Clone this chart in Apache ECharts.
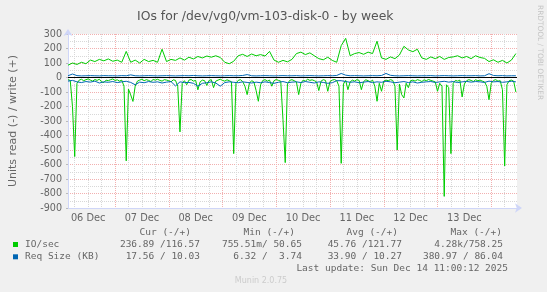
<!DOCTYPE html>
<html><head><meta charset="utf-8">
<script src="https://cdn.jsdelivr.net/npm/echarts@6/dist/echarts.min.js"></script>
<style>html,body{margin:0;padding:0;background:#f0f0f0}#c{width:547px;height:292px}</style>
</head><body><div id="c"></div><script>
// Time is in hours since Sat 06 Dec 00:00; samples are fixed-step (RRD style)
const startHour = 3;
const endHour = 203.5;
const coarseStep = 2;   // hours between samples of the coarse series
const fineStep = 1;     // hours between samples of IO read series

const dayLabels = ['06 Dec','07 Dec','08 Dec','09 Dec','10 Dec','11 Dec','12 Dec','13 Dec'];
const dayLabelHours = [12,36,60,84,108,132,156,180];
const dayLineHours = [24,48,72,96,120,144,168,192];
const sixHourLines = [6,12,18,30,36,42,54,60,66,78,84,90,102,108,114,126,132,138,150,156,162,174,180,186,198];

// IO/sec write (+), every 2 h
const ioWrite = [85,100,90,105,95,120,110,125,115,128,
 112,120,105,180,105,120,100,125,110,118,
 105,195,110,125,118,135,120,140,128,145,
 135,148,140,150,138,105,95,112,150,160,
 145,162,150,158,148,180,120,105,118,108,
 125,165,175,158,170,150,130,122,140,118,
 105,220,270,150,165,172,160,175,165,250,
 135,125,142,130,155,215,190,178,195,135,
 125,142,130,145,125,138,142,150,135,145,
 130,150,138,132,110,122,105,118,100,120,
 165];

// IO/sec read (-), every 1 h
const ioRead = [-15,-20,-200,-545,-40,-18,-12,-22,-15,-10,
 -18,-25,-14,-20,-12,-30,-35,-18,-22,-15,
 -10,-20,-16,-25,-18,-60,-575,-80,-120,-165,
 -60,-25,-18,-12,-22,-15,-20,-28,-14,-18,
 -12,-20,-25,-15,-18,-22,-30,-16,-20,-60,
 -375,-40,-22,-50,-18,-14,-25,-20,-85,-30,
 -18,-22,-55,-20,-15,-70,-25,-18,-12,-20,
 -25,-16,-22,-30,-525,-40,-20,-15,-28,-60,
 -118,-40,-22,-30,-90,-164,-50,-20,-15,-25,
 -18,-60,-22,-14,-20,-25,-290,-587,-45,-20,
 -15,-22,-30,-118,-40,-18,-25,-12,-20,-16,
 -22,-30,-90,-25,-15,-20,-95,-28,-18,-14,
 -22,-60,-592,-45,-20,-84,-30,-18,-25,-15,
 -20,-84,-28,-16,-22,-30,-18,-60,-164,-40,
 -95,-25,-18,-22,-15,-20,-60,-500,-45,-118,
 -141,-40,-70,-22,-18,-25,-15,-20,-28,-16,
 -22,-14,-20,-25,-30,-95,-40,-60,-820,-50,
 -70,-525,-40,-20,-25,-18,-134,-45,-22,-15,
 -20,-28,-16,-22,-18,-25,-30,-60,-153,-40,
 -20,-15,-25,-22,-84,-610,-50,-22,-18,-25,
 -100];

// Req Size (KB) write (+), every 2 h
const reqWrite = [12,24,13,11,12,13,12,11,13,12,
 12,11,13,12,18,12,11,12,13,12,
 11,12,13,12,11,12,13,12,14,12,
 11,12,13,12,11,12,13,12,12,14,
 20,12,11,12,13,12,11,12,13,12,
 12,13,11,12,13,12,11,12,13,12,
 14,28,16,12,13,12,11,12,13,12,
 14,28,15,12,11,12,13,12,11,12,
 12,13,11,12,13,12,11,12,13,12,
 12,13,11,12,26,14,12,13,11,12,
 12];

// Req Size (KB) read (-), every 2 h
const reqRead = [-25,-20,-30,-35,-28,-32,-25,-38,-30,-33,
 -28,-35,-30,-26,-34,-50,-32,-36,-28,-33,
 -30,-38,-32,-28,-58,-30,-35,-34,-40,-60,
 -40,-36,-30,-38,-60,-35,-30,-33,-36,-30,
 -34,-38,-32,-36,-30,-35,-40,-33,-28,-36,
 -32,-30,-35,-28,-33,-38,-30,-34,-40,-36,
 -22,-22,-28,-33,-30,-36,-32,-28,-35,-30,
 -33,-26,-30,-36,-32,-28,-35,-30,-38,-33,
 -30,-28,-34,-30,-26,-32,-28,-35,-30,-27,
 -32,-28,-30,-34,-25,-30,-28,-33,-30,-26,
 -30];

const legendNames = ['IO/sec','Req Size (KB)'];
const legendColors = ['#00cc00','#0066b3'];
const legendHeaders = ['Cur (-/+)','Min (-/+)','Avg (-/+)','Max (-/+)'];
const curVals = ['236.89 /116.57','17.56 / 10.03'];
const minVals = ['755.51m/ 50.65','6.32 /  3.74'];
const avgVals = ['45.76 /121.77','33.90 / 10.27'];
const maxVals = ['4.28k/758.25','380.97 / 86.04'];
const lastUpdate = 'Last update: Sun Dec 14 11:00:12 2025';

const toPairs = (arr, step) => arr.map((v, i) => [startHour + i * step, v]);

const FONT = 'DejaVu Sans';
const MONO = 'DejaVu Sans Mono';
const TXT = '#666666';
const AXIS = '#cfd6f8';
const GRID = '#d8d8d8';
const MGRID = '#f2b0b0';

const chart = echarts.init(document.getElementById('c'), null, {renderer: 'canvas'});

const colRights = [200, 302, 402, 503];
const headRights = [191, 295, 398, 502];
const rowY = [244.5, 256.8];
const graphics = [];
legendHeaders.forEach((h, k) => graphics.push({type:'text', x: headRights[k], y: 232.7,
  style:{text:h, font:'9.5px "' + MONO + '"', fill:TXT, align:'right', verticalAlign:'middle'}}));
const cols = [curVals, minVals, avgVals, maxVals];
legendNames.forEach((n, r) => {
  graphics.push({type:'rect', shape:{x:13, y:rowY[r]-2.5, width:5, height:5}, style:{fill:legendColors[r]}});
  graphics.push({type:'text', x:25, y:rowY[r], style:{text:n, font:'9.5px "' + MONO + '"', fill:TXT, align:'left', verticalAlign:'middle'}});
  cols.forEach((c, k) => graphics.push({type:'text', x: colRights[k], y: rowY[r],
    style:{text:c[r], font:'9.5px "' + MONO + '"', fill:TXT, align:'right', verticalAlign:'middle'}}));
});
graphics.push({type:'text', x:508, y:268.8, style:{text:lastUpdate, font:'9.5px "' + MONO + '"', fill:TXT, align:'right', verticalAlign:'middle'}});
graphics.push({type:'text', x:261, y:281, style:{text:'Munin 2.0.75', font:'8px "' + FONT + '"', fill:'#cccccc', align:'center', verticalAlign:'middle'}});
graphics.push({type:'text', x:540, y:5, rotation:-Math.PI/2, style:{text:'RRDTOOL / TOBI OETIKER', font:'7.4px "' + FONT + '"', fill:'#c4c4c4', align:'left', verticalAlign:'middle'}});

const lineSeries = (name, data, color, z) => ({
  type:'line', name, data, xAxisIndex:0, yAxisIndex:0, showSymbol:false, symbol:'none',
  lineStyle:{color, width:1}, itemStyle:{color}, z, animation:false, silent:true
});

chart.setOption({
  backgroundColor:'#f0f0f0',
  animation:false,
  title:{text:'IOs for /dev/vg0/vm-103-disk-0 - by week', left:132, top:6,
    textStyle:{fontFamily:FONT, fontSize:12.4, fontWeight:'normal', color:'#555555'}},
  grid:{left:66, right:30, top:34, bottom:84, backgroundColor:'#ffffff', show:true, borderWidth:0},
  xAxis:[{
    type:'value', position:'bottom', min:startHour, max:endHour,
    axisLine:{show:true, onZero:false, lineStyle:{color:AXIS, width:1}, symbol:['none','arrow'], symbolSize:[7,7], symbolOffset:[0,5]},
    axisTick:{show:false, customValues:sixHourLines},
    axisLabel:{show:false},
    splitLine:{show:true, lineStyle:{color:GRID, type:[1,1], width:1}}
  },{
    type:'value', position:'bottom', min:startHour, max:endHour,
    axisLine:{show:false},
    axisTick:{show:false, customValues:dayLineHours},
    axisLabel:{show:true, customValues:dayLabelHours, margin:5, color:TXT, fontFamily:FONT, fontSize:9.8,
      formatter:(v) => dayLabels[dayLabelHours.indexOf(Math.round(v))] || ''},
    splitLine:{show:true, lineStyle:{color:MGRID, type:[1,1], width:1}}
  }],
  yAxis:{
    type:'value', min:-900, max:300, interval:100,
    name:'Units read (-) / write (+)', nameLocation:'middle', nameGap:49,
    nameTextStyle:{fontFamily:FONT, fontSize:11, color:TXT},
    axisLine:{show:true, lineStyle:{color:AXIS, width:1}, symbol:['none','arrow'], symbolSize:[7,7], symbolOffset:[0,5]},
    axisTick:{show:true, length:2, lineStyle:{color:'#bbbbbb'}},
    axisLabel:{color:TXT, fontFamily:FONT, fontSize:9.6, margin:6},
    splitLine:{show:true, lineStyle:{color:MGRID, type:[1,1], width:1}},
    minorTick:{show:false, splitNumber:2},
    minorSplitLine:{show:true, lineStyle:{color:GRID, type:[1,1], width:1}}
  },
  graphic:graphics,
  series:[
    lineSeries('IO/sec read', toPairs(ioRead, fineStep), '#00cc00', 2),
    lineSeries('IO/sec write', toPairs(ioWrite, coarseStep), '#00cc00', 2),
    lineSeries('Req Size read', toPairs(reqRead, coarseStep), '#0066b3', 3),
    Object.assign(lineSeries('Req Size write', toPairs(reqWrite, coarseStep), '#0066b3', 3), {
      markLine:{silent:true, symbol:'none', label:{show:false}, animation:false, z:5,
        lineStyle:{color:'#000000', width:1, type:'solid'}, data:[{yAxis:0}]}
    })
  ]
});
</script></body></html>
